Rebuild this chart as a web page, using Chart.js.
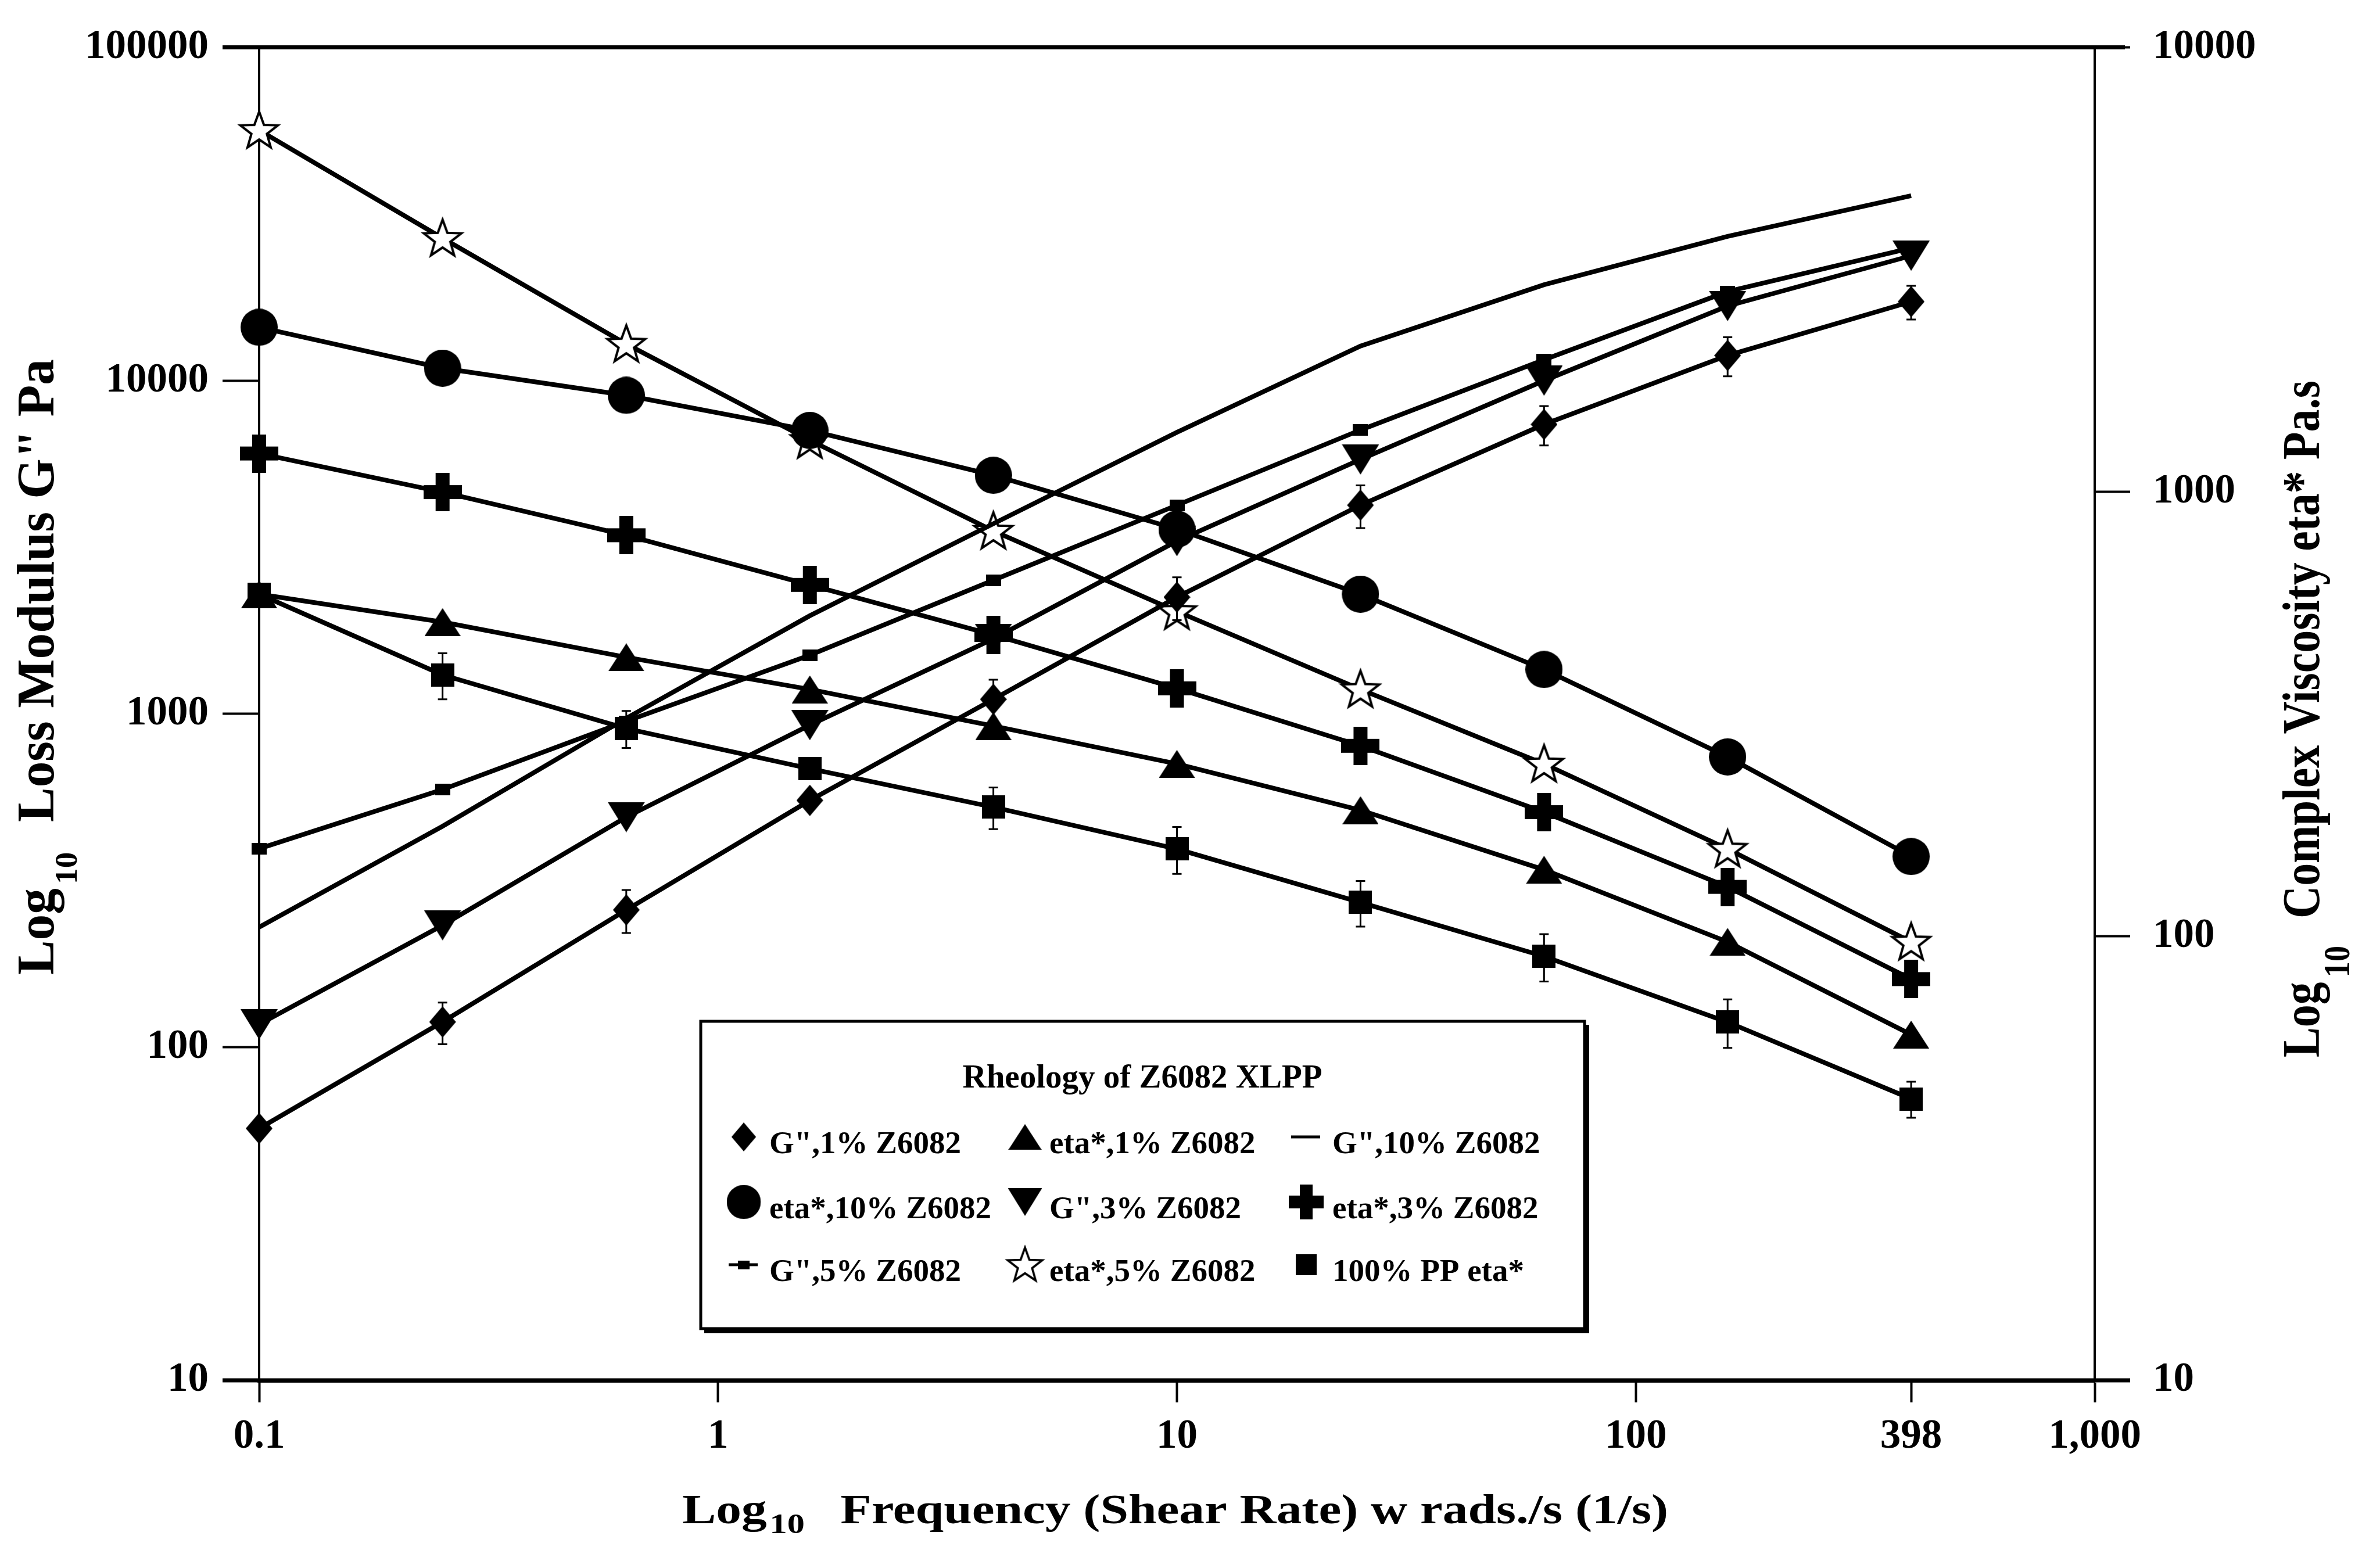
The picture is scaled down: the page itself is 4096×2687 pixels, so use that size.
<!DOCTYPE html>
<html>
<head>
<meta charset="utf-8">
<title>Rheology of Z6082 XLPP</title>
<script src="https://cdn.jsdelivr.net/npm/chart.js@4.4.1/dist/chart.umd.min.js"></script>
<style>
  html, body { margin: 0; padding: 0; background: #fff; }
  canvas { display: block; }
</style>
</head>
<body>
<canvas id="rheo" width="4096" height="2687"></canvas>
<script>
// Angular frequency of each measurement, rad/s
const freq = [0.1, 0.251, 0.631, 1.585, 3.981, 10, 25.12, 63.1, 158.5, 398.1];

// Loss modulus G'' (Pa) - left axis
const gpp1  = [57, 119, 258, 550, 1106, 2240, 4230, 7390, 11900, 17260];
const gpp3  = [117, 232, 490, 925, 1680, 3300, 5800, 10000, 16750, 23700];
const gpp5  = [394, 593, 950, 1500, 2518, 4228, 7110, 11550, 18500, 25000];
const gpp10 = [229, 460, 970, 1970, 3720, 7000, 12700, 19400, 27100, 35900];

// Complex viscosity eta* (Pa.s) - right axis
const eta1  = [588, 509, 424, 359, 297, 244, 192, 141, 97, 60];
const eta3  = [1219, 998, 798, 617, 476, 361, 268, 190, 129, 80];
const eta5  = [6510, 3720, 2150, 1306, 816, 538, 359, 244, 157, 97];
const eta10 = [2345, 1897, 1648, 1374, 1089, 824, 588, 398, 253, 151];
const etaPP = [588, 387, 293, 238, 195, 157, 119, 90, 64, 43];

// Standard deviation of the repeated runs (0 = not shown)
const gpp1Err  = [0, 17, 38, 0, 160, 330, 620, 1000, 1600, 2000];
const etaPPErr = [0, 46, 28, 0, 21, 19, 14, 11, 8, 4];

// Axis ticks and their labels
const xTicks       = [0.1, 1, 10, 100, 398, 1000];
const xTickLabels  = ['0.1', '1', '10', '100', '398', '1,000'];
const yLeftTicks   = [10, 100, 1000, 10000, 100000];
const yLeftLabels  = ['10', '100', '1000', '10000', '100000'];
const yRightTicks  = [10, 100, 1000, 10000];
const yRightLabels = ['10', '100', '1000', '10000'];

const legendTitle = 'Rheology of Z6082 XLPP';

const SERIF = '"Liberation Serif", "Times New Roman", Times, serif';

// ---------- marker glyphs ----------
function glyph(w, h, paint) {
  const c = document.createElement('canvas');
  c.width = w; c.height = h;
  const g = c.getContext('2d');
  g.fillStyle = '#000';
  g.strokeStyle = '#000';
  paint(g, w, h);
  return c;
}
const markers = {
  diamond: glyph(46, 54, (g, w, h) => {
    g.beginPath(); g.moveTo(w / 2, 0); g.lineTo(w, h / 2); g.lineTo(w / 2, h); g.lineTo(0, h / 2);
    g.closePath(); g.fill();
  }),
  triUp: glyph(62, 48, (g, w, h) => {
    g.beginPath(); g.moveTo(w / 2, 0); g.lineTo(w, h); g.lineTo(0, h); g.closePath(); g.fill();
  }),
  triDown: glyph(64, 52, (g, w, h) => {
    g.beginPath(); g.moveTo(0, 0); g.lineTo(w, 0); g.lineTo(w / 2, h); g.closePath(); g.fill();
  }),
  circle: glyph(64, 64, (g, w, h) => {
    g.beginPath(); g.arc(w / 2, h / 2, w / 2, 0, Math.PI * 2); g.fill();
  }),
  plus: glyph(66, 66, (g, w, h) => {
    const t = 24;
    g.fillRect(0, (h - t) / 2, w, t);
    g.fillRect((w - t) / 2, 0, t, h);
  }),
  dot: glyph(26, 20, (g, w, h) => { g.fillRect(0, 0, w, h); }),
  square: glyph(40, 40, (g, w, h) => { g.fillRect(0, 0, w, h); }),
  star: glyph(76, 76, (g, w, h) => {
    const R = 34, r = 14, cx = w / 2, cy = h / 2 + 2;
    g.beginPath();
    for (let k = 0; k < 10; k++) {
      const rad = (k % 2 === 0) ? R : r;
      const a = -Math.PI / 2 + k * Math.PI / 5;
      const px = cx + rad * Math.cos(a), py = cy + rad * Math.sin(a);
      if (k === 0) g.moveTo(px, py); else g.lineTo(px, py);
    }
    g.closePath();
    g.fillStyle = '#fff'; g.fill();
    g.lineWidth = 4; g.lineJoin = 'miter'; g.stroke();
  })
};

// ---------- series ----------
const series = [
  { label: 'G",1% Z6082',    values: gpp1,  axis: 'y',  marker: markers.diamond, err: gpp1Err },
  { label: 'eta*,1% Z6082',  values: eta1,  axis: 'y1', marker: markers.triUp },
  { label: 'G",10% Z6082',   values: gpp10, axis: 'y',  marker: null, key: 'line' },
  { label: 'eta*,10% Z6082', values: eta10, axis: 'y1', marker: markers.circle },
  { label: 'G",3% Z6082',    values: gpp3,  axis: 'y',  marker: markers.triDown },
  { label: 'eta*,3% Z6082',  values: eta3,  axis: 'y1', marker: markers.plus },
  { label: 'G",5% Z6082',    values: gpp5,  axis: 'y',  marker: markers.dot, key: 'line' },
  { label: 'eta*,5% Z6082',  values: eta5,  axis: 'y1', marker: markers.star },
  { label: '100% PP eta*',   values: etaPP, axis: 'y1', marker: markers.square, err: etaPPErr }
];

const datasets = series.map(s => ({
  label: s.label,
  data: s.values.map((v, i) => ({ x: freq[i], y: v })),
  yAxisID: s.axis,
  borderColor: '#000',
  backgroundColor: '#000',
  borderWidth: 8,
  tension: 0,
  fill: false,
  clip: false,
  pointStyle: s.marker || 'circle',
  pointRadius: s.marker ? 12 : 0,
  pointHoverRadius: s.marker ? 12 : 0,
  pointBorderWidth: 0,
  errorBars: s.err || null,
  legendKey: s.key || null,
  legendMarker: s.marker
}));

// ---------- helpers for the hand-set text ----------
function drawAxisTitle(ctx, t) {
  ctx.save();
  ctx.translate(t.x, t.y);
  ctx.rotate(t.rot);
  ctx.fillStyle = '#000';
  ctx.textAlign = 'left';
  ctx.textBaseline = 'alphabetic';
  const main = `bold ${t.size}px ${SERIF}`;
  const small = `bold ${Math.round(t.size * t.subSize)}px ${SERIF}`;
  ctx.font = main;
  const wLog = ctx.measureText('Log').width;
  const wRest = ctx.measureText(t.rest).width;
  ctx.font = small;
  const wSub = ctx.measureText('10').width;
  const natural = wLog + t.gapSub + wSub + t.gapRest + wRest;
  const along = t.length ? t.length / natural : 1;
  ctx.scale(along, t.glyph);
  let x = 0;
  ctx.font = main;  ctx.fillText('Log', x, 0); x += wLog + t.gapSub;
  ctx.font = small; ctx.fillText('10', x, t.subDrop / t.glyph); x += wSub + t.gapRest;
  ctx.font = main;  ctx.fillText(t.rest, x, 0);
  ctx.restore();
}

function drawLegend(ctx, chart) {
  const box = { x: 1206, y: 1758, w: 1521, h: 529 };
  // drop shadow and frame
  ctx.save();
  ctx.fillStyle = '#000';
  ctx.fillRect(box.x + 6, box.y + 6, box.w + 2, box.h + 2);
  ctx.fillStyle = '#fff';
  ctx.fillRect(box.x, box.y, box.w, box.h);
  ctx.lineWidth = 5;
  ctx.strokeStyle = '#000';
  ctx.strokeRect(box.x, box.y, box.w, box.h);

  ctx.fillStyle = '#000';
  ctx.textBaseline = 'middle';
  ctx.textAlign = 'center';
  ctx.font = `bold 57px ${SERIF}`;
  ctx.fillText(legendTitle, 1966, 1857);

  const colMarker = [1280, 1764, 2248];
  const colText = [1324, 1806, 2293];
  const rowText = [1971, 2083, 2191];
  const rowMark = [1957, 2069, 2177];
  ctx.textAlign = 'left';
  ctx.font = `bold 55px ${SERIF}`;
  chart.data.datasets.forEach((ds, i) => {
    const r = Math.floor(i / 3), c = i % 3;
    const mx = colMarker[c], my = rowMark[r];
    if (ds.legendKey === 'line') {
      ctx.lineWidth = 5;
      ctx.beginPath();
      ctx.moveTo(mx - 26, my); ctx.lineTo(mx + 24, my);
      ctx.stroke();
    }
    if (ds.legendMarker) {
      const m = ds.legendMarker;
      const k = ds.legendKey === 'line' ? 0.75 : 0.92;
      ctx.drawImage(m, mx - m.width * k / 2, my - m.height * k / 2, m.width * k, m.height * k);
    }
    ctx.fillText(ds.label, colText[c], rowText[r]);
  });
  ctx.restore();
}

// ---------- plugins ----------
const errorBarPlugin = {
  id: 'errorBars',
  afterDatasetsDraw(chart) {
    const ctx = chart.ctx;
    ctx.save();
    ctx.strokeStyle = '#000';
    ctx.lineWidth = 3;
    chart.data.datasets.forEach(ds => {
      if (!ds.errorBars) return;
      const ys = chart.scales[ds.yAxisID];
      const xs = chart.scales.x;
      ds.data.forEach((p, i) => {
        const e = ds.errorBars[i];
        if (!e) return;
        const px = xs.getPixelForValue(p.x);
        const top = ys.getPixelForValue(p.y + e);
        const bot = ys.getPixelForValue(p.y - e);
        ctx.beginPath();
        ctx.moveTo(px, top); ctx.lineTo(px, bot);
        ctx.moveTo(px - 8, top); ctx.lineTo(px + 8, top);
        ctx.moveTo(px - 8, bot); ctx.lineTo(px + 8, bot);
        ctx.stroke();
      });
    });
    ctx.restore();
  }
};

const decorPlugin = {
  id: 'decor',
  afterDraw(chart) {
    const ctx = chart.ctx;
    const a = chart.chartArea;
    ctx.save();
    ctx.strokeStyle = '#000';
    ctx.lineWidth = 7;
    ctx.lineCap = 'butt';
    ctx.beginPath();
    ctx.moveTo(a.left - 63, a.top); ctx.lineTo(a.right + 52, a.top);
    ctx.moveTo(a.left - 63, a.bottom); ctx.lineTo(a.right + 61, a.bottom);
    ctx.stroke();
    ctx.restore();

    drawAxisTitle(ctx, {
      x: 1174, y: 2622, rot: 0, size: 71, glyph: 1, subSize: 0.69, subDrop: 17,
      gapSub: 4, gapRest: 50, rest: 'Frequency (Shear Rate) w rads./s (1/s)', length: 1697
    });
    drawAxisTitle(ctx, {
      x: 92, y: 1678, rot: -Math.PI / 2, size: 76, glyph: 1.19, subSize: 0.62, subDrop: 40,
      gapSub: 6, gapRest: 44, rest: 'Loss Modulus G" Pa', length: 1060
    });
    drawAxisTitle(ctx, {
      x: 3991, y: 1820, rot: -Math.PI / 2, size: 76, glyph: 1.19, subSize: 0.7, subDrop: 52,
      gapSub: 8, gapRest: 46, rest: 'Complex Viscosity eta* Pa.s', length: 1165
    });

    drawLegend(ctx, chart);
  }
};

// ---------- chart ----------
const tickFont = { family: SERIF, weight: 'bold', size: 71 };

function fixedTicks(values) {
  return scale => { scale.ticks = values.map(v => ({ value: v })); };
}

new Chart(document.getElementById('rheo'), {
  type: 'line',
  data: { datasets },
  options: {
    responsive: false,
    devicePixelRatio: 1,
    animation: false,
    events: [],
    layout: { padding: { top: 66, left: 0, right: 0, bottom: 0 } },
    plugins: { legend: { display: false }, tooltip: { enabled: false }, title: { display: false } },
    scales: {
      x: {
        type: 'logarithmic',
        position: 'bottom',
        min: 0.1,
        max: 1000,
        afterBuildTicks: fixedTicks(xTicks),
        afterFit: s => { s.height = 311; },
        ticks: {
          autoSkip: false, maxRotation: 0, minRotation: 0, padding: 17, color: '#000', font: tickFont,
          callback: (v, i) => xTickLabels[i]
        },
        grid: { drawOnChartArea: false, drawTicks: true, tickLength: 38, tickWidth: 4, tickColor: '#000' },
        border: { display: true, color: '#000', width: 7 }
      },
      y: {
        type: 'logarithmic',
        position: 'left',
        min: 10,
        max: 100000,
        afterBuildTicks: fixedTicks(yLeftTicks),
        afterFit: s => { s.width = 446; },
        ticks: { autoSkip: false, padding: 24, color: '#000', font: tickFont, callback: (v, i) => yLeftLabels[i] },
        grid: { drawOnChartArea: false, drawTicks: true, tickLength: 63, tickWidth: 4, tickColor: '#000' },
        border: { display: true, color: '#000', width: 4 }
      },
      y1: {
        type: 'logarithmic',
        position: 'right',
        min: 10,
        max: 10000,
        afterBuildTicks: fixedTicks(yRightTicks),
        afterFit: s => { s.width = 491; },
        ticks: { autoSkip: false, padding: 39, color: '#000', font: tickFont, callback: (v, i) => yRightLabels[i] },
        grid: { drawOnChartArea: false, drawTicks: true, tickLength: 61, tickWidth: 4, tickColor: '#000' },
        border: { display: true, color: '#000', width: 4 }
      }
    }
  },
  plugins: [errorBarPlugin, decorPlugin]
});
</script>
</body>
</html>
